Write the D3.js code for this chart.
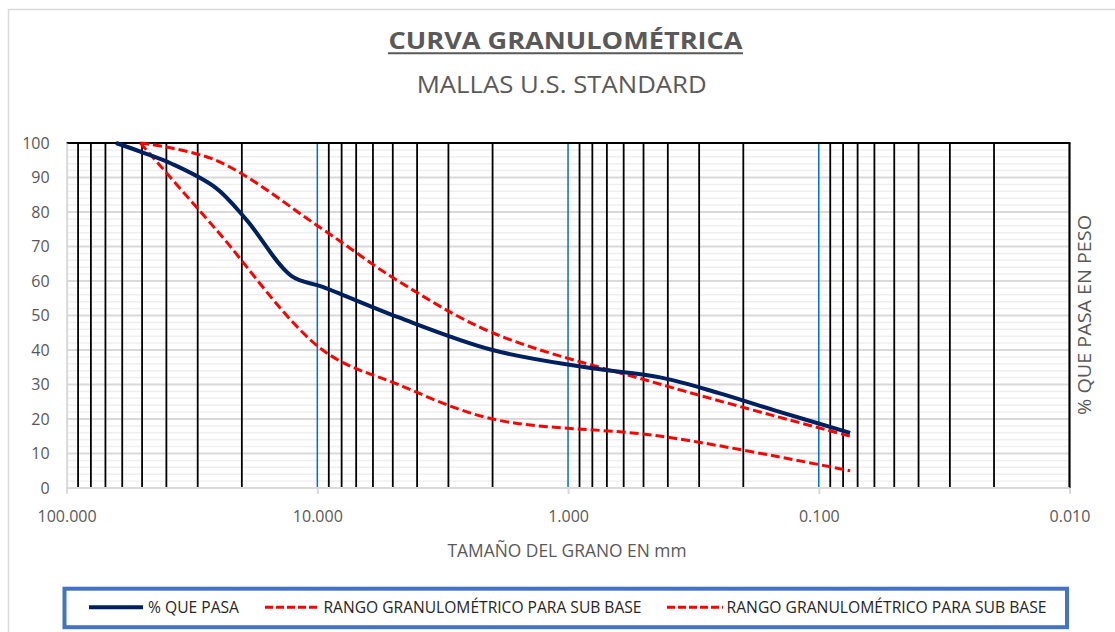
<!DOCTYPE html>
<html><head><meta charset="utf-8">
<script src="https://cdn.jsdelivr.net/npm/d3@7"></script>
<style>
body{margin:0;background:#fff;}
svg{display:block;font-family:"Open Sans",sans-serif;}
</style></head>
<body>
<svg id="chart" width="1115" height="632"></svg>
<script>
// ---- data ----
const sieveSizes = [63.5, 50.8, 38.1, 25.4, 19.05, 12.7, 9.525, 4.76, 2.0, 0.85, 0.425, 0.25, 0.15, 0.075];
const pasaValues = [100, 97.5, 94, 87, 77.5, 61.5, 58.3, 49.5, 40, 35, 32, 27.5, 22.5, 16];
const limitSizes = [50.8, 25.4, 9.525, 4.76, 2.0, 0.425, 0.075];
const upperLimit = [100, 95, 75, 60, 45, 30, 15];
const lowerLimit = [100, 75, 40, 30, 20, 15, 5];
const seriesNames = ["% QUE PASA", "RANGO GRANULOMÉTRICO PARA SUB BASE", "RANGO GRANULOMÉTRICO PARA SUB BASE"];
const xMajorTicks = [100, 10, 1, 0.1, 0.01];
const xMinorGrid = [90,80,70,60,50,40,30,20, 9,8,7,6,5,4,3,2, 0.9,0.8,0.7,0.6,0.5,0.4,0.3,0.2, 0.09,0.08,0.07,0.06,0.05,0.04,0.03,0.02];
const yTicks = [0,10,20,30,40,50,60,70,80,90,100];
const yMinor = d3.range(0, 101, 2);
const titleText = "CURVA GRANULOMÉTRICA";
const subtitleText = "MALLAS U.S. STANDARD";
const xTitle = "TAMAÑO DEL GRANO EN mm";
const yTitle = "% QUE PASA EN PESO";

// ---- layout ----
const svg = d3.select("#chart");
const L = 66.6, R = 1069.5, T = 143, B = 488;
const x = d3.scaleLog().domain([100, 0.01]).range([L, R]);
const y = d3.scaleLinear().domain([0, 100]).range([B, T]);
const grayText = "#595959";

// outer chart border
svg.append("rect").attr("x", 8.5).attr("y", 9.5).attr("width", 1130).attr("height", 650)
  .attr("fill", "none").attr("stroke", "#d9d9d9").attr("stroke-width", 1.5);

// titles
svg.append("text").attr("x", 565.5).attr("y", 49.3).attr("text-anchor", "middle")
  .attr("font-size", 22.5).attr("font-weight", "bold").attr("fill", grayText)
  .attr("textLength", 354).attr("lengthAdjust", "spacingAndGlyphs").text(titleText);
svg.append("line").attr("x1", 388).attr("x2", 743).attr("y1", 53.3).attr("y2", 53.3)
  .attr("stroke", grayText).attr("stroke-width", 2);
svg.append("text").attr("x", 561.7).attr("y", 92.7).attr("text-anchor", "middle")
  .attr("font-size", 23).attr("fill", grayText)
  .attr("textLength", 290).attr("lengthAdjust", "spacingAndGlyphs").text(subtitleText);

// horizontal gridlines
const g = svg.append("g");
g.selectAll("line.hmin").data(yMinor.filter(v => v % 10 !== 0)).join("line")
  .attr("x1", L).attr("x2", R).attr("y1", d => y(d)).attr("y2", d => y(d))
  .attr("stroke", "#efefef").attr("stroke-width", 1.5);
g.selectAll("line.hmaj").data(yTicks.slice(1, -1)).join("line")
  .attr("x1", L).attr("x2", R).attr("y1", d => y(d)).attr("y2", d => y(d))
  .attr("stroke", "#d9d9d9").attr("stroke-width", 2);

// vertical gridlines
g.selectAll("line.vmin").data(xMinorGrid).join("line")
  .attr("x1", d => x(d)).attr("x2", d => x(d)).attr("y1", T).attr("y2", B)
  .attr("stroke", "#000").attr("stroke-width", 1.8);
g.selectAll("line.vmaj").data(xMajorTicks.slice(1, -1)).join("line")
  .attr("x1", d => x(d)).attr("x2", d => x(d)).attr("y1", T).attr("y2", B)
  .attr("stroke", "#0070C0").attr("stroke-width", 1.5);
// top & right black borders
svg.append("line").attr("x1", L).attr("x2", R + 1).attr("y1", y(100)).attr("y2", y(100))
  .attr("stroke", "#000").attr("stroke-width", 2.2);
svg.append("line").attr("x1", x(0.01)).attr("x2", x(0.01)).attr("y1", T).attr("y2", B)
  .attr("stroke", "#000").attr("stroke-width", 2.2);

// axes
const xAxis = svg.append("g").attr("transform", `translate(0,${B})`)
  .call(d3.axisBottom(x).tickValues(xMajorTicks).tickFormat(d3.format(".3f")).tickSize(6).tickPadding(16.3));
xAxis.select(".domain").attr("stroke", "#d9d9d9").attr("stroke-width", 2).attr("d", `M${L},0H${R}`);
xAxis.selectAll(".tick line").attr("stroke", "#d9d9d9").attr("stroke-width", 2);
xAxis.selectAll("text").attr("fill", grayText).attr("font-size", 16).attr("font-family", "Open Sans");

const yAxis = svg.append("g").attr("transform", `translate(${L},0)`)
  .call(d3.axisLeft(y).tickValues(yTicks).tickSize(0).tickPadding(17));
yAxis.select(".domain").attr("stroke", "#d9d9d9").attr("stroke-width", 2);
yAxis.selectAll("text").attr("fill", grayText).attr("font-size", 16).attr("font-family", "Open Sans");

// axis titles
svg.append("text").attr("x", 567).attr("y", 556.7).attr("text-anchor", "middle")
  .attr("font-size", 17.5).attr("fill", grayText)
  .attr("textLength", 239).attr("lengthAdjust", "spacingAndGlyphs").text(xTitle);
svg.append("text").attr("transform", "translate(1091,315) rotate(-90)").attr("text-anchor", "middle")
  .attr("font-size", 18).attr("fill", grayText)
  .attr("textLength", 200).attr("lengthAdjust", "spacingAndGlyphs").text(yTitle);

// curves
const line = d3.line().x(d => x(d[0])).y(d => y(d[1])).curve(d3.curveCatmullRom.alpha(0.5));
const upper = limitSizes.map((s, i) => [s, upperLimit[i]]);
const lower = limitSizes.map((s, i) => [s, lowerLimit[i]]);
const pasa = sieveSizes.map((s, i) => [s, pasaValues[i]]);
svg.append("path").attr("d", line(upper)).attr("fill", "none").attr("stroke", "#FF0000")
  .attr("stroke-width", 3).attr("stroke-dasharray", "9,4");
svg.append("path").attr("d", line(lower)).attr("fill", "none").attr("stroke", "#FF0000")
  .attr("stroke-width", 3).attr("stroke-dasharray", "9,4");
svg.append("path").attr("d", line(pasa)).attr("fill", "none").attr("stroke", "#002060")
  .attr("stroke-width", 4).attr("stroke-linejoin", "round");

// legend
svg.append("rect").attr("x", 64.5).attr("y", 588.7).attr("width", 1002.5).attr("height", 38.5)
  .attr("fill", "#fff").attr("stroke", "#4472C4").attr("stroke-width", 4);
const legendItems = [
  {name: seriesNames[0], x1: 89, x2: 143, tx: 148, tw: 91, color: "#002060", dash: null, w: 4},
  {name: seriesNames[1], x1: 265, x2: 317, tx: 323.5, tw: 318, color: "#FF0000", dash: "8,3", w: 3},
  {name: seriesNames[2], x1: 667, x2: 723, tx: 726.5, tw: 320, color: "#FF0000", dash: "8,3", w: 3}
];
const lg = svg.append("g").selectAll("g").data(legendItems).join("g");
lg.append("line").attr("x1", d => d.x1).attr("x2", d => d.x2).attr("y1", 607.3).attr("y2", 607.3)
  .attr("stroke", d => d.color).attr("stroke-width", d => d.w).attr("stroke-dasharray", d => d.dash);
lg.append("text").attr("x", d => d.tx).attr("y", 613.3).attr("font-size", 17).attr("fill", "#262626")
  .attr("textLength", d => d.tw).attr("lengthAdjust", "spacingAndGlyphs").text(d => d.name);
</script>
</body></html>
